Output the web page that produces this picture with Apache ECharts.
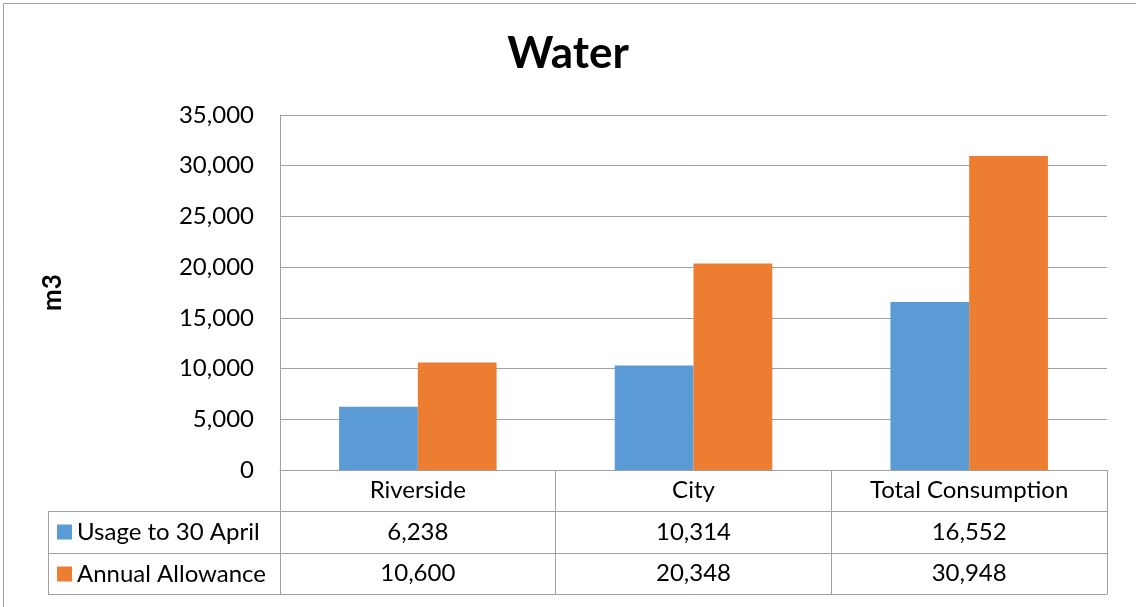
<!DOCTYPE html>
<html>
<head>
<meta charset="utf-8">
<title>Water</title>
<script src="https://cdn.jsdelivr.net/npm/echarts@6/dist/echarts.min.js"></script>
<style>
  html, body { margin: 0; padding: 0; background: #ffffff; }
  #chart { width: 1136px; height: 607px; }
</style>
</head>
<body>
<div id="chart"></div>
<script>
// Water consumption against annual allowance (m3)
const categories = ['Riverside', 'City', 'Total Consumption'];
const seriesNames = ['Usage to 30 April', 'Annual Allowance'];
const usageToApril = [6238, 10314, 16552];
const annualAllowance = [10600, 20348, 30948];
const yMin = 0;
const yMax = 35000;
const yStep = 5000;

const FONT = 'Lato';
const FONT_SIZE = 24;
const LINE = '#a0a0a0';
const COLORS = ['#5B9BD5', '#ED7D31'];

// plot area and data-table geometry
const GRID = { left: 280, right: 29, top: 115, bottom: 137 };
const CHART_H = 607;
const AXIS_Y = CHART_H - GRID.bottom;      // y of the category axis line
const ROW_OFFSETS = [0, 41, 83, 124];      // table row borders below the axis
const TABLE_LEFT = 48;

const fmt = v => Number(v).toLocaleString('en-US');

function tableAxis(rowIndex, labels) {
  const top = ROW_OFFSETS[rowIndex];
  const hasRow = rowIndex < ROW_OFFSETS.length - 1;
  const rowH = hasRow ? ROW_OFFSETS[rowIndex + 1] - top : 0;
  return {
    type: 'category',
    data: categories,
    position: 'bottom',
    offset: top,
    boundaryGap: true,
    axisLine: { show: true, lineStyle: { color: LINE, width: 1 } },
    axisTick: { show: hasRow, interval: 0, length: rowH, lineStyle: { color: LINE, width: 1 } },
    axisLabel: {
      show: !!labels,
      interval: 0,
      margin: rowH / 2,
      verticalAlign: 'middle',
      fontFamily: FONT,
      fontSize: FONT_SIZE,
      color: '#000000',
      formatter: (v, i) => labels ? labels[i] : ''
    },
    splitLine: { show: false }
  };
}

const chart = echarts.init(document.getElementById('chart'), null, { renderer: 'canvas' });

const rowLines = ROW_OFFSETS.slice(1).map(off => ({
  type: 'line',
  shape: { x1: TABLE_LEFT, y1: AXIS_Y + off + 0.5, x2: GRID.left, y2: AXIS_Y + off + 0.5 },
  style: { stroke: LINE, lineWidth: 1 },
  silent: true
}));

chart.setOption({
  backgroundColor: '#ffffff',
  animation: false,
  title: {
    text: 'Water',
    left: 'center',
    top: 27,
    textStyle: { fontFamily: FONT, fontSize: 44, fontWeight: 'bold', color: '#000000' }
  },
  legend: {
    orient: 'vertical',
    left: 57,
    top: AXIS_Y + ROW_OFFSETS[1] + 9,
    padding: 0,
    itemGap: 18,
    itemWidth: 15,
    itemHeight: 15,
    icon: 'rect',
    selectedMode: false,
    textStyle: { fontFamily: FONT, fontSize: FONT_SIZE, lineHeight: 24, color: '#000000' },
    data: seriesNames
  },
  grid: { left: GRID.left, right: GRID.right, top: GRID.top, bottom: GRID.bottom, containLabel: false },
  xAxis: [
    tableAxis(0, categories),
    tableAxis(1, usageToApril.map(fmt)),
    tableAxis(2, annualAllowance.map(fmt)),
    tableAxis(3, null)
  ],
  yAxis: {
    type: 'value',
    min: yMin,
    max: yMax,
    interval: yStep,
    name: 'm3',
    nameLocation: 'middle',
    nameGap: 214,
    nameRotate: 90,
    nameTextStyle: { fontFamily: FONT, fontSize: 26, fontWeight: 'bold', color: '#000000' },
    axisLine: { show: true, lineStyle: { color: LINE, width: 1 } },
    axisTick: { show: false },
    axisLabel: { margin: 26, fontFamily: FONT, fontSize: FONT_SIZE, color: '#000000', formatter: v => fmt(v) },
    splitLine: { show: true, lineStyle: { color: LINE, width: 1 } }
  },
  series: [
    {
      name: seriesNames[0],
      type: 'bar',
      xAxisIndex: 0,
      data: usageToApril,
      barGap: '0%',
      barCategoryGap: '42.857%',
      itemStyle: { color: COLORS[0] }
    },
    {
      name: seriesNames[1],
      type: 'bar',
      xAxisIndex: 0,
      data: annualAllowance,
      barGap: '0%',
      barCategoryGap: '42.857%',
      itemStyle: { color: COLORS[1] }
    }
  ],
  graphic: [
    {
      type: 'rect',
      shape: { x: 3.5, y: 3.5, width: 1150, height: 620 },
      style: { fill: 'none', stroke: LINE, lineWidth: 1 },
      silent: true,
      z: -1
    },
    {
      type: 'line',
      shape: { x1: TABLE_LEFT + 0.5, y1: AXIS_Y + ROW_OFFSETS[1], x2: TABLE_LEFT + 0.5, y2: AXIS_Y + ROW_OFFSETS[3] + 1 },
      style: { stroke: LINE, lineWidth: 1 },
      silent: true
    }
  ].concat(rowLines)
});
</script>
</body>
</html>
